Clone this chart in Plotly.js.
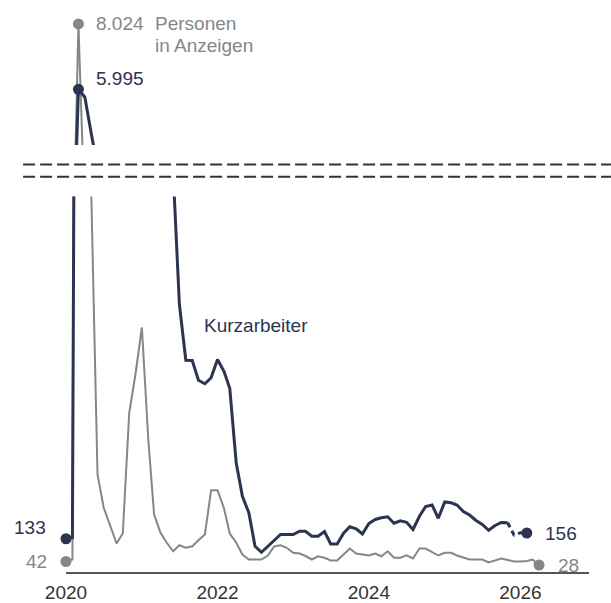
<!DOCTYPE html>
<html>
<head>
<meta charset="utf-8">
<script src="https://cdn.plot.ly/plotly-3.0.1.min.js"></script>
<style>html,body{margin:0;padding:0;background:#fff;}</style>
</head>
<body>
<div id="chart" style="width:611px;height:603px;"></div>
<script>
// ---- data (monthly, starting January 2020) ----
const START_YEAR = 2020;
// Personen in Anzeigen (thousands)
const anzeigen = [42, 50, 8024, 1900, 1550, 390, 257, 183, 114, 154, 637, 790,
  978, 530, 230, 157, 117, 83, 107, 97, 103, 127, 150, 327,
  327, 255, 154, 118, 70, 50, 50, 50, 66, 102, 107, 97,
  77, 74, 64, 50, 63, 57, 46, 46, 70, 94, 74, 70,
  66, 74, 63, 83, 57, 57, 67, 54, 94, 94, 78, 66,
  77, 77, 66, 58, 50, 50, 50, 38, 46, 54, 48, 42,
  42, 44, 50, 28];
// Kurzarbeiter (thousands); last 3 months preliminary (dashed)
const kurzarbeiter = [133, 138, 5995, 5750, 4650, 3300, 2550, 2200, 2000, 2250, 2400, 2900,
  3300, 2600, 2300, 2250, 2000, 1600, 1070, 847, 846, 767, 753, 777,
  850, 803, 735, 437, 303, 237, 103, 79, 103, 130, 150, 150,
  150, 163, 163, 143, 143, 162, 112, 112, 155, 181, 173, 152,
  194, 210, 217, 221, 195, 205, 199, 170, 223, 262, 268, 215,
  280, 277, 268, 242, 228, 206, 190, 167, 186, 198, 197, 148,
  157, 156];
const preliminaryCount = 3;
const tickYears = ['2020', '2022', '2024', '2026'];
const labelKurz = 'Kurzarbeiter';
const labelAnzLines = ['Personen', 'in Anzeigen'];

// ---- helpers ----
function monthList(n) {
  const out = [];
  for (let i = 0; i < n; i++) {
    const y = START_YEAR + Math.floor(i / 12);
    const m = (i % 12) + 1;
    out.push(y + '-' + (m < 10 ? '0' + m : m) + '-01');
  }
  return out;
}
function fmt(v) { return String(v).replace(/\B(?=(\d{3})+(?!\d))/g, '.'); }
function argmax(a) { let k = 0; a.forEach((v, i) => { if (v > a[k]) k = i; }); return k; }

const mA = monthList(anzeigen.length);
const mK = monthList(kurzarbeiter.length);
const NAVY = '#2b3451';
const GRAY = '#868686';
const nK = kurzarbeiter.length;
const solidEnd = nK - preliminaryCount;
const kSolidX = mK.slice(0, solidEnd), kSolidY = kurzarbeiter.slice(0, solidEnd);
const kDashX = mK.slice(solidEnd - 1), kDashY = kurzarbeiter.slice(solidEnd - 1);
const pA = argmax(anzeigen), pK = argmax(kurzarbeiter);
const lastA = anzeigen.length - 1, lastK = nK - 1;

const traces = [];
['y', 'y2'].forEach(ax => {
  traces.push({x: mA, y: anzeigen, yaxis: ax, mode: 'lines', line: {color: GRAY, width: 2}, hoverinfo: 'skip'});
  traces.push({x: kSolidX, y: kSolidY, yaxis: ax, mode: 'lines', line: {color: NAVY, width: 3}, hoverinfo: 'skip'});
  traces.push({x: kDashX, y: kDashY, yaxis: ax, mode: 'lines', line: {color: NAVY, width: 3, dash: '5px,4px'}, hoverinfo: 'skip'});
});
traces.push({x: [mA[0], mA[lastA]], y: [anzeigen[0], anzeigen[lastA]], yaxis: 'y', mode: 'markers',
  marker: {color: GRAY, size: 11}, cliponaxis: false, hoverinfo: 'skip'});
traces.push({x: [mK[0], mK[lastK]], y: [kurzarbeiter[0], kurzarbeiter[lastK]], yaxis: 'y', mode: 'markers',
  marker: {color: NAVY, size: 11}, cliponaxis: false, hoverinfo: 'skip'});
traces.push({x: [mA[pA]], y: [anzeigen[pA]], yaxis: 'y2', mode: 'markers',
  marker: {color: GRAY, size: 11}, cliponaxis: false, hoverinfo: 'skip'});
traces.push({x: [mK[pK]], y: [kurzarbeiter[pK]], yaxis: 'y2', mode: 'markers',
  marker: {color: NAVY, size: 11}, cliponaxis: false, hoverinfo: 'skip'});

const FONT = 'Arial, "Liberation Sans", sans-serif';
const FS = 19;
function ann(x, y, yref, text, color, xanchor, xshift, yshift) {
  return {x: x, y: y, xref: 'x', yref: yref, text: text, showarrow: false,
    xanchor: xanchor, yanchor: 'middle', xshift: xshift, yshift: yshift, align: 'left',
    font: {family: FONT, size: FS, color: color}};
}
const annotations = [
  ann(mA[pA], anzeigen[pA], 'y2', fmt(anzeigen[pA]), GRAY, 'left', 16, 0),
  ann(mA[pA], anzeigen[pA], 'y2', labelAnzLines[0], GRAY, 'left', 75, 0),
  ann(mA[pA], anzeigen[pA], 'y2', labelAnzLines[1], GRAY, 'left', 75, -22),
  ann(mK[pK], kurzarbeiter[pK], 'y2', fmt(kurzarbeiter[pK]), NAVY, 'left', 16, 11),
  ann(mK[0], kurzarbeiter[0], 'y', fmt(kurzarbeiter[0]), NAVY, 'right', -18, 11),
  ann(mA[0], anzeigen[0], 'y', fmt(anzeigen[0]), GRAY, 'right', -17, 0),
  ann(mK[lastK], kurzarbeiter[lastK], 'y', fmt(kurzarbeiter[lastK]), NAVY, 'left', 16, 0),
  ann(mA[lastA], anzeigen[lastA], 'y', fmt(anzeigen[lastA]), GRAY, 'left', 17, 0),
  ann('2021-10-19', 986, 'y', labelKurz, NAVY, 'left', 0, 0)
];

const breakLine = y => ({type: 'line', xref: 'paper', yref: 'paper', x0: -0.082, x1: 1.042, y0: y, y1: y,
  line: {color: '#333333', width: 2, dash: '12px,5px'}});

const layout = {
  width: 611, height: 603,
  margin: {l: 66, r: 22, t: 0, b: 31},
  paper_bgcolor: '#ffffff', plot_bgcolor: '#ffffff',
  showlegend: false,
  font: {family: FONT, size: FS, color: '#333333'},
  xaxis: {type: 'date', range: ['2020-01-01', '2026-11-28'],
    tickvals: tickYears.map(y => y + '-01-01'), ticktext: tickYears,
    showgrid: false, zeroline: false, showline: true, linecolor: '#555555', linewidth: 2,
    ticks: '', ticklabelstandoff: 2, tickfont: {family: FONT, size: FS, color: '#333333'}},
  yaxis: {domain: [0, 0.6565], range: [0, 1502], visible: false},
  yaxis2: {domain: [0.7465, 1], range: [4265, 8768], visible: false},
  shapes: [breakLine(0.7124), breakLine(0.6909)],
  annotations: annotations
};

Plotly.newPlot('chart', traces, layout, {staticPlot: true});
</script>
</body>
</html>
